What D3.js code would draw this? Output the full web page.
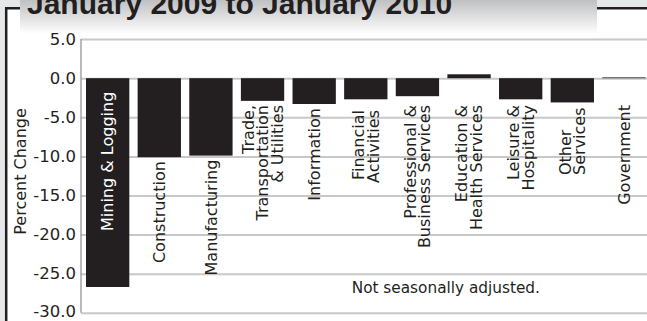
<!DOCTYPE html>
<html><head><meta charset="utf-8">
<script src="https://cdn.jsdelivr.net/npm/d3@7"></script>
<style>html,body{margin:0;padding:0;background:#fff;overflow:hidden}</style>
</head><body>
<svg id="chart" width="647" height="321"></svg>
<script>
const title = "January 2009 to January 2010";
const categories = ["Mining & Logging","Construction","Manufacturing","Trade, Transportation & Utilities","Information","Financial Activities","Professional & Business Services","Education & Health Services","Leisure & Hospitality","Other Services","Government"];
const labelLines = [["Mining & Logging"],["Construction"],["Manufacturing"],["Trade,","Transportation","& Utilities"],["Information"],["Financial","Activities"],["Professional &","Business Services"],["Education &","Health Services"],["Leisure &","Hospitality"],["Other","Services"],["Government"]];
const values = [-26.7,-10.1,-9.9,-2.9,-3.3,-2.7,-2.3,0.5,-2.7,-3.1,0.1];
const yTicks = [5,0,-5,-10,-15,-20,-25,-30];
const yTitle = "Percent Change";
const note = "Not seasonally adjusted.";

const ink = "#231f20";
const font = "'DejaVu Sans', sans-serif";
const svg = d3.select("#chart");
const W = 647, H = 321;

// background & frame
svg.append("rect").attr("width", W).attr("height", H).attr("fill", "#fff");
svg.append("rect").attr("width", W).attr("height", 8).attr("fill", "#e6e7e8");
svg.append("rect").attr("width", 6).attr("height", H).attr("fill", "#e6e7e8");
svg.append("path").attr("d", `M6.2,${H} V8.2 H${W}`).attr("fill", "none")
  .attr("stroke", ink).attr("stroke-width", 2.5);

// title box with gradient
const defs = svg.append("defs");
const grad = defs.append("linearGradient").attr("id", "tg").attr("x1", 0).attr("y1", 0).attr("x2", 0).attr("y2", 1);
grad.append("stop").attr("offset", "0%").attr("stop-color", "#bfc0c2");
grad.append("stop").attr("offset", "100%").attr("stop-color", "#ffffff");
svg.append("rect").attr("x", 20).attr("y", 0).attr("width", 577).attr("height", 34).attr("fill", "url(#tg)");
svg.append("text").attr("x", 27).attr("y", 14)
  .attr("font-family", "'Liberation Sans', Arial, sans-serif").attr("font-weight", "bold")
  .attr("font-size", 30).attr("fill", ink).text(title);

// scales
const plotL = 81, plotR = 647;
const y = d3.scaleLinear().domain([-30, 5]).range([312.8, 39.1]);
const x = d3.scaleBand().domain(categories).range([81, 650.6]).paddingInner(0.161).paddingOuter(0.097);

// gridlines + tick labels via axis
const yAxis = d3.axisLeft(y).tickValues(yTicks).tickSize(-(plotR - plotL)).tickPadding(5)
  .tickFormat(d => d.toFixed(1));
const ga = svg.append("g").attr("transform", `translate(${plotL},0)`).call(yAxis);
ga.select(".domain").remove();
ga.selectAll(".tick line").attr("stroke", "#c8c8c8").attr("stroke-width", 2);
ga.selectAll(".tick text").attr("font-family", font).attr("font-size", 16.5).attr("fill", ink)
  .attr("dy", d => d === -30 ? "0.2em" : "0.32em");

// axis line
svg.append("line").attr("x1", plotL).attr("x2", plotL).attr("y1", y(5)).attr("y2", y(-30))
  .attr("stroke", "#8c8c8c").attr("stroke-width", 1.2);

// bars
svg.append("g").selectAll("rect").data(categories).join("rect")
  .attr("x", d => x(d))
  .attr("width", x.bandwidth())
  .attr("y", (d, i) => y(Math.max(0, values[i])))
  .attr("height", (d, i) => Math.abs(y(values[i]) - y(0)))
  .attr("fill", ink);

// category labels (rotated)
const labelNudge = {"Financial Activities": 5};
const labelBottomAligned = {"Other Services": 175};
const lineStep = 14.5;
categories.forEach((c, i) => {
  const v = values[i];
  const cx = x(c) + x.bandwidth() / 2;
  const inside = v < -20;
  let anchorY, anchor = "end";
  if (inside) {
    anchorY = y(0) + 13.5;
  } else if (labelBottomAligned[c] !== undefined) {
    anchorY = labelBottomAligned[c]; anchor = "start";
  } else {
    anchorY = Math.max(y(Math.min(0, v)) + 4, 105) + (labelNudge[c] || 0);
  }
  const g = svg.append("g").attr("transform", `translate(${cx},${anchorY}) rotate(-90)`);
  const lines = labelLines[i];
  lines.forEach((ln, j) => {
    g.append("text")
      .attr("x", 0)
      .attr("y", (j - (lines.length - 1) / 2) * lineStep)
      .attr("dy", "0.35em")
      .attr("text-anchor", anchor)
      .attr("font-family", font).attr("font-size", 16)
      .attr("fill", inside ? "#fff" : ink)
      .text(ln);
  });
});

// y-axis title
svg.append("text").attr("transform", "translate(25.5,171.5) rotate(-90)")
  .attr("text-anchor", "middle").attr("font-family", font).attr("font-size", 16)
  .attr("fill", ink).text(yTitle);

// note
svg.append("text").attr("x", 445.8).attr("y", 293).attr("text-anchor", "middle")
  .attr("font-family", font).attr("font-size", 15.3).attr("fill", ink).text(note);
</script>
</body></html>
